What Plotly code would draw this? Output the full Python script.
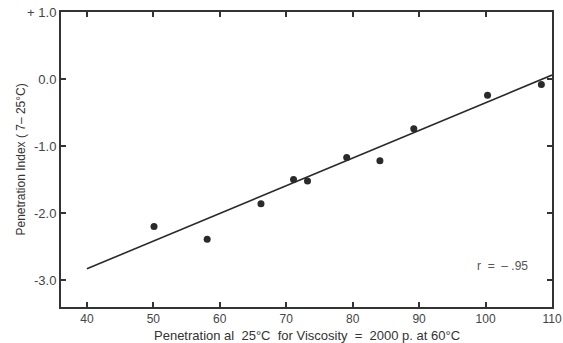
import plotly.graph_objects as go

pen_x = [50.1, 58.1, 66.2, 71.1, 73.2, 79.1, 84.1, 89.2, 100.3, 108.4]
pi_y = [-2.20, -2.39, -1.86, -1.50, -1.52, -1.17, -1.22, -0.74, -0.24, -0.08]
fit_x = [40, 110]
fit_y = [-2.83, 0.06]
x_ticks = [40, 50, 60, 70, 80, 90, 100, 110]
y_ticks = [1.0, 0.0, -1.0, -2.0, -3.0]
y_tick_text = ["+ 1.0", "0.0", "-1.0", "-2.0", "-3.0"]

fig = go.Figure()
fig.add_trace(go.Scatter(x=fit_x, y=fit_y, mode="lines",
                         line=dict(color="#2a2a2a", width=1.6), showlegend=False))
fig.add_trace(go.Scatter(x=pen_x, y=pi_y, mode="markers",
                         marker=dict(color="#2a2a2a", size=7), showlegend=False))
fig.add_annotation(x=102.5, y=-2.79, text="r  =  \u2013 .95", showarrow=False,
                   font=dict(size=12, color="#555555"))
fig.add_annotation(xref="paper", yref="paper", x=0.5, y=0, yshift=-28,
                   text="Penetration al  25\u00b0C  for Viscosity  =  2000 p. at 60\u00b0C",
                   showarrow=False, xanchor="center", yanchor="middle",
                   font=dict(size=13, color="#333333"))
fig.add_annotation(xref="paper", yref="paper", x=0, xshift=-41, y=0.5,
                   text="Penetration Index ( 7\u2013 25\u00b0C)", textangle=-90,
                   showarrow=False, xanchor="center", yanchor="middle",
                   font=dict(size=12, color="#333333"))

axis_common = dict(showline=True, linecolor="#333333", linewidth=2, mirror="ticks",
                   ticks="inside", ticklen=5, tickcolor="#333333", tickwidth=1.5,
                   showgrid=False, zeroline=False, automargin=False)
fig.update_xaxes(range=[36.1, 110], tickvals=x_ticks,
                 tickfont=dict(size=12, color="#444444"), **axis_common)
fig.update_yaxes(range=[-3.4, 1.0], tickvals=y_ticks, ticktext=y_tick_text,
                 tickfont=dict(size=13, color="#444444"), **axis_common)
fig.update_layout(width=563, height=343, margin=dict(l=61, r=11, t=12, b=36),
                  plot_bgcolor="white", paper_bgcolor="white",
                  font=dict(family="Liberation Sans, Arial, sans-serif"))
fig.write_html("out.html")
